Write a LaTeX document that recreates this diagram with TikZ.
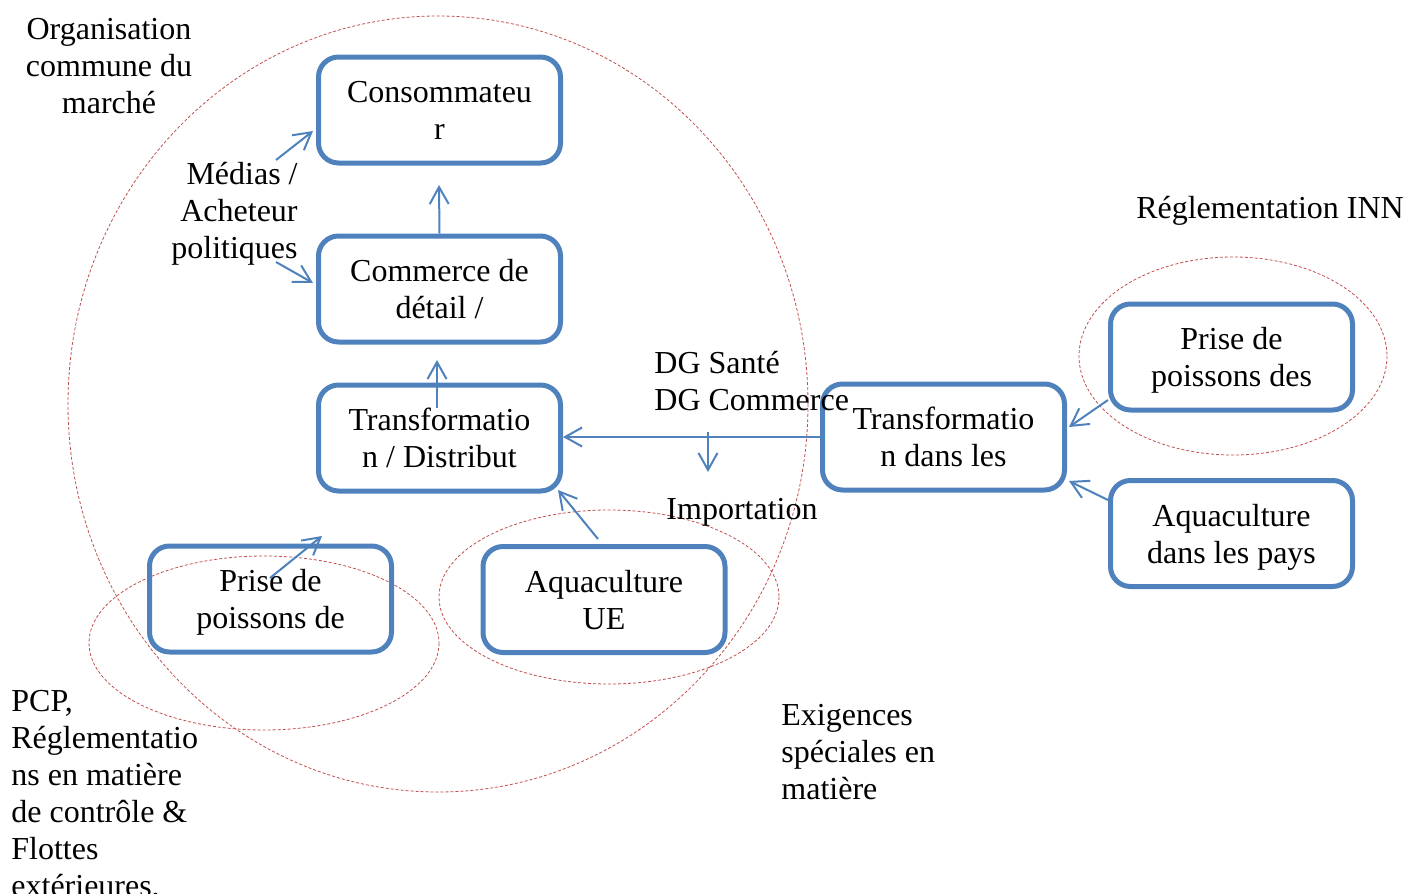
\documentclass[tikz,border=0pt]{standalone}
\usepackage{fontspec}
\setmainfont{Liberation Serif}
\usetikzlibrary{arrows.meta}
\definecolor{boxblue}{HTML}{4F81BD}
\definecolor{ellred}{HTML}{C0504D}
\begin{document}
\begin{tikzpicture}[x=0.5pt,y=-0.5pt,
  every node/.style={font=\fontsize{16}{18.5}\selectfont, inner sep=0pt},
  box/.style={draw=boxblue, line width=2.5pt, rounded corners=10pt, minimum width=121pt, minimum height=53pt, align=center, text height=33.5pt, text depth=4pt},
  conn/.style={draw=boxblue, line width=1pt, -{Straight Barb[length=8.5pt,width=9.5pt]}},
  zone/.style={draw=ellred, line width=0.4pt, dash pattern=on 1.5pt off 1pt},
  lbl/.style={yshift=-1.5pt},
  lblm/.style={yshift=-0.7pt}]
\useasboundingbox (0,0) rectangle (1405,894);
% zones
\draw[zone] (438,404) ellipse [x radius=370, y radius=388];
\draw[zone] (264,643) ellipse [x radius=175, y radius=87];
\draw[zone] (609,597) ellipse [x radius=170, y radius=87];
\draw[zone] (1233,356) ellipse [x radius=154, y radius=99];
% boxes
\node[box] (cons) at (439.5,110) {Consommateu\\r};
\node[box] (comm) at (439.5,289) {Commerce de\\détail /};
\node[box] (trans) at (439.5,438) {Transformatio\\n / Distribut};
\node[box] (prise) at (270.5,599) {Prise de\\poissons de};
\node[box] (aqua) at (604,599.5) {Aquaculture\\UE};
\node[box] (tdl) at (943.5,437) {Transformatio\\n dans les};
\node[box] (prisd) at (1231.5,357) {Prise de\\poissons des};
\node[box] (aqpd) at (1231.5,533.5) {Aquaculture\\dans les pays};
% labels
\node[lblm, align=center] (ocm) at (109,65) {Organisation\\commune du\\marché};
\node[lbl, align=right, anchor=east] (med) at (298,211) {Médias /\\Acheteur\\politiques};
\node[lbl] (inn) at (1270,208) {Réglementation INN};
\node[lblm, align=left, anchor=west] (dg) at (654,379.5) {DG Santé\\DG Commerce};
\node[lbl] (imp) at (742,509) {Importation};
\node[lblm, align=left, anchor=west] (exi) at (781,751) {Exigences\\spéciales en\\matière};
\node[lbl, align=left, anchor=west] (pcp) at (11,792.5) {PCP,\\Réglementatio\\ns en matière\\de contrôle \&\\Flottes\\extérieures,};
% connector end points
\coordinate (a1) at (439,185);
\coordinate (b0) at (437,408);
\coordinate (b1) at (437,360);
\coordinate (m0) at (276,160);
\coordinate (m1) at (313,131);
\coordinate (p0) at (276,262);
\coordinate (p1) at (313,283);
\coordinate (d0) at (708,432);
\coordinate (d1) at (708,472);
\coordinate (f0) at (270,578);
\coordinate (f1) at (322,536);
\coordinate (u0) at (598,539);
\coordinate (u1) at (558,490);
\coordinate (r0) at (1108,400);
\coordinate (r1) at (1069,427);
\coordinate (s0) at (1108,500);
\coordinate (s1) at (1069,481);
% connectors
\draw[conn] (comm.north) -- (a1);
\draw[conn] (b0) -- (b1);
\draw[conn] (m0) -- (m1);
\draw[conn] (p0) -- (p1);
\draw[conn] (tdl.west) -- (tdl.west -| trans.east);
\draw[conn] (d0) -- (d1);
\draw[conn] (f0) -- (f1);
\draw[conn] (u0) -- (u1);
\draw[conn] (r0) -- (r1);
\draw[conn] (s0) -- (s1);
\end{tikzpicture}
\end{document}
